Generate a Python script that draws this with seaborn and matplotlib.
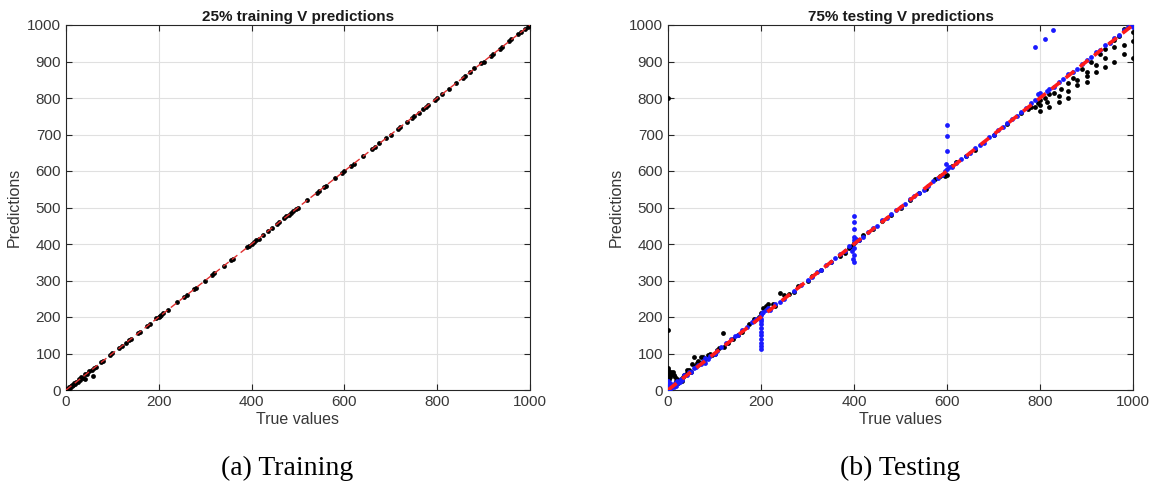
import numpy as np
import pandas as pd
import matplotlib
matplotlib.use("Agg")
import matplotlib.pyplot as plt
import seaborn as sns

# ---- training set (25%) : true value / prediction pairs ----
train_true = [0, 2, 4, 6, 8, 10, 12, 14, 16, 18, 20, 22, 25, 28, 30, 33, 36, 40, 42, 45,
              50, 55, 58, 60, 65, 75, 80, 95, 100, 115, 120, 130, 135, 140, 155, 160, 175,
              180, 195, 200, 202, 205, 210, 220, 240, 255, 260, 275, 280, 300, 315, 320,
              340, 355, 360, 390, 395, 400, 405, 410, 415, 425, 435, 445, 455, 460, 470,
              475, 480, 485, 490, 495, 500, 520, 540, 545, 555, 560, 580, 595, 600, 615,
              620, 640, 660, 665, 675, 690, 700, 715, 720, 735, 745, 750, 760, 770, 775,
              780, 795, 800, 810, 825, 840, 855, 860, 870, 880, 895, 900, 915, 920, 935,
              940, 955, 960, 975, 980, 990, 995, 1000]
train_pred = [0, 3, 2, 7, 6, 11, 10, 15, 13, 19, 17, 23, 22, 30, 27, 35, 33, 30, 44, 43,
              52, 54, 38, 61, 64, 76, 80, 96, 101, 115, 121, 130, 136, 140, 156, 160, 176,
              180, 196, 200, 203, 205, 211, 220, 240, 256, 259, 276, 280, 300, 316, 320,
              340, 355, 360, 391, 395, 400, 405, 411, 415, 425, 435, 445, 456, 460, 470,
              476, 480, 486, 490, 495, 500, 521, 540, 546, 555, 560, 580, 595, 600, 615,
              620, 640, 660, 665, 676, 690, 700, 716, 720, 735, 745, 751, 760, 770, 776,
              780, 795, 800, 810, 825, 841, 855, 860, 870, 881, 895, 900, 915, 920, 935,
              940, 955, 961, 975, 980, 990, 995, 1000]

# ---- testing set (75%) : first model (black) ----
test_true_k = [0, 0, 0, 1, 2, 3, 4, 2, 5, 6, 8, 10, 12, 15, 18, 20, 22, 25, 28, 30, 32, 35,
               38, 40, 45, 50, 52, 55, 58, 62, 65, 70, 72, 75, 80, 85, 90, 95, 100, 105,
               110, 118, 120, 130, 140, 150, 160, 175, 185, 195, 200, 205, 210, 215, 225,
               230, 240, 250, 260, 270, 280, 300, 310, 330, 350, 370, 380, 390, 395, 400,
               410, 420, 440, 460, 480, 500, 520, 540, 555, 575, 585, 590, 595, 600, 610,
               620, 640, 660, 700, 730, 760, 775, 780, 790, 795, 800, 800, 800, 810, 815,
               820, 820, 830, 840, 840, 845, 860, 860, 860, 870, 880, 880, 890, 900, 900,
               900, 910, 920, 920, 930, 940, 940, 940, 960, 960, 960, 970, 980, 980, 980,
               1000, 1000, 1000, 1000]
test_pred_k = [165, 800, 60, 55, 50, 45, 40, 30, 35, 50, 45, 48, 40, 35, 25, 30, 20, 28, 30,
               25, 35, 40, 45, 55, 55, 50, 70, 90, 65, 75, 80, 90, 75, 90, 85, 95, 100, 95,
               100, 110, 115, 155, 118, 130, 140, 150, 160, 180, 195, 200, 210, 225, 230,
               235, 235, 230, 265, 260, 262, 268, 285, 300, 312, 330, 352, 368, 375, 390,
               395, 402, 410, 425, 440, 462, 480, 500, 520, 540, 550, 578, 585, 590, 585,
               590, 615, 625, 640, 658, 700, 730, 760, 770, 775, 775, 785, 765, 780, 795,
               800, 790, 810, 775, 815, 805, 790, 825, 840, 820, 800, 855, 850, 835, 880,
               870, 860, 845, 900, 890, 870, 920, 935, 910, 885, 960, 940, 900, 970, 990,
               945, 920, 1000, 980, 955, 910]

# ---- testing set (75%) : second model (blue) ----
test_true_b = [0, 0, 0, 0, 1, 1, 2, 3, 4, 5, 6, 8, 10, 12, 15, 18, 20, 22, 25, 28, 30, 35,
               40, 45, 50, 55, 60, 65, 70, 75, 80, 80, 85, 90, 100, 105, 115, 125, 135,
               145, 150, 160, 170, 180, 185, 190, 198, 199, 200, 200, 200, 200, 200, 200,
               200, 199, 201, 201, 202, 205, 210, 215, 220, 230, 240, 250, 270, 285, 300,
               310, 320, 330, 340, 350, 360, 370, 380, 390, 395, 398, 400, 400, 400, 400,
               400, 400, 400, 400, 402, 405, 410, 420, 430, 440, 450, 460, 470, 480, 490,
               500, 510, 520, 530, 540, 550, 560, 570, 580, 590, 595, 598, 600, 600, 600,
               600, 605, 610, 620, 630, 640, 650, 660, 670, 680, 690, 700, 710, 720, 730,
               740, 750, 760, 770, 780, 790, 795, 790, 800, 800, 810, 815, 820, 828, 830,
               840, 850, 860, 870, 880, 890, 900, 910, 920, 930, 940, 950, 960, 970, 980,
               990, 995, 1000, 1000]
test_pred_b = [0, 5, 10, 15, 20, 25, 8, 3, 12, 18, 5, 10, 15, 8, 20, 12, 25, 18, 22, 30,
               28, 40, 42, 50, 48, 60, 62, 68, 72, 80, 75, 88, 85, 92, 100, 108, 118, 128,
               140, 148, 152, 165, 172, 185, 190, 195, 200, 190, 180, 170, 160, 150, 140,
               130, 120, 113, 195, 205, 210, 215, 220, 225, 218, 235, 240, 250, 272, 288,
               302, 310, 322, 330, 342, 350, 362, 372, 380, 395, 380, 360, 350, 370, 390,
               410, 420, 440, 460, 478, 405, 415, 410, 420, 432, 445, 450, 465, 470, 482,
               492, 502, 510, 522, 532, 540, 548, 560, 572, 582, 590, 600, 620, 605, 655,
               695, 725, 610, 612, 622, 632, 640, 648, 662, 672, 678, 692, 700, 712, 720,
               732, 742, 750, 762, 772, 785, 795, 810, 940, 805, 815, 962, 820, 825, 985,
               830, 845, 852, 865, 872, 880, 892, 905, 912, 925, 932, 945, 950, 965, 972,
               985, 995, 1000, 1000, 995]

ref_line = [0, 1000]
ticks = [0, 100, 200, 300, 400, 500, 600, 700, 800, 900, 1000]
xticks = [0, 200, 400, 600, 800, 1000]

sns.set_style("white")
plt.rcParams["font.family"] = ["Liberation Sans", "DejaVu Sans"]

fig = plt.figure(figsize=(11.52, 4.88), dpi=100)
ax1 = fig.add_axes([66 / 1152, 1 - 390 / 488, 464 / 1152, 365 / 488])
ax2 = fig.add_axes([668 / 1152, 1 - 390 / 488, 465 / 1152, 365 / 488])

txt_col = "#383838"


def style_axes(ax, title):
    ax.set_xlim(0, 1000)
    ax.set_ylim(0, 1000)
    ax.set_xticks(xticks)
    ax.set_yticks(ticks)
    ax.grid(True, color="#e0e0e0", linewidth=0.8)
    ax.set_axisbelow(True)
    ax.tick_params(direction="in", length=4, width=0.8, colors="#262626",
                   labelcolor=txt_col, labelsize=11, top=True, right=True,
                   bottom=True, left=True)
    for s in ax.spines.values():
        s.set_color("#262626")
        s.set_linewidth(0.8)
    ax.set_xlabel("True values", fontsize=11.5, color=txt_col, labelpad=2)
    ax.set_ylabel("Predictions", fontsize=11.5, color=txt_col, labelpad=4)
    ax.set_title(title, fontsize=11, fontweight="bold", color="#1a1a1a", pad=3)


# Training panel
train_df = pd.DataFrame({"true": train_true, "pred": train_pred})
sns.scatterplot(data=train_df, x="true", y="pred", ax=ax1, color="black", s=12,
                linewidth=0, zorder=3)
sns.lineplot(x=ref_line, y=ref_line, ax=ax1, color="#e03030", linewidth=1.0,
             linestyle=(0, (5, 3)), zorder=4)
style_axes(ax1, "25% training V predictions")

# Testing panel
k_df = pd.DataFrame({"true": test_true_k, "pred": test_pred_k})
b_df = pd.DataFrame({"true": test_true_b, "pred": test_pred_b})
sns.scatterplot(data=k_df, x="true", y="pred", ax=ax2, color="black", s=12,
                linewidth=0, zorder=3)
sns.scatterplot(data=b_df, x="true", y="pred", ax=ax2, color="#1a1aff", s=12,
                linewidth=0, zorder=4)
sns.lineplot(x=ref_line, y=ref_line, ax=ax2, color="#ff1a1a", linewidth=2.6,
             linestyle=(0, (3, 2)), zorder=5)
style_axes(ax2, "75% testing V predictions")

# Sub-figure captions
fig.text(287 / 1152, 1 - 468 / 488, "(a) Training", ha="center", va="center",
         fontsize=20, family="Liberation Serif", color="black")
fig.text(900 / 1152, 1 - 468 / 488, "(b) Testing", ha="center", va="center",
         fontsize=20, family="Liberation Serif", color="black")

fig.savefig("out.png", dpi=100)
